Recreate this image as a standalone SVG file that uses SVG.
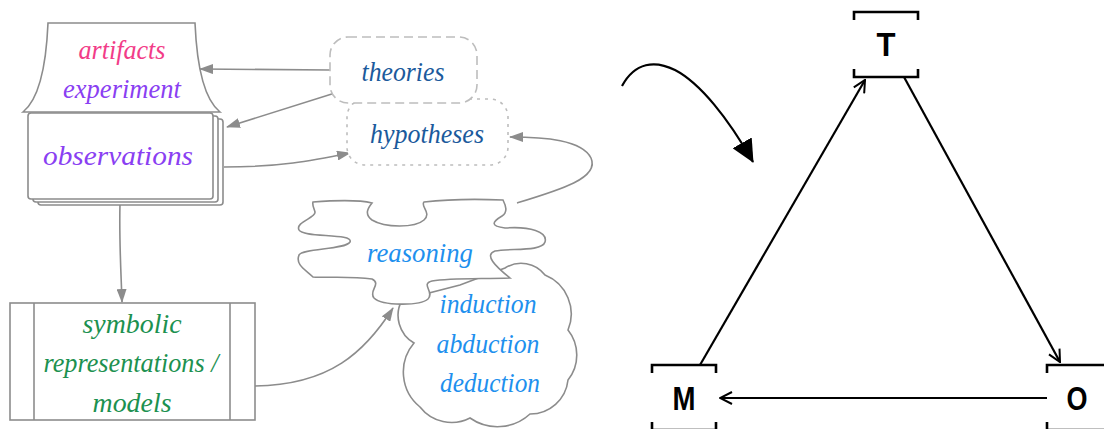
<svg xmlns="http://www.w3.org/2000/svg" width="1104" height="429" viewBox="0 0 1104 429">
<style>
.g{fill:#fff;stroke:#8c8c8c;stroke-width:1.6}
.c{fill:none;stroke:#8c8c8c;stroke-width:1.6}
.k{fill:none;stroke:#000;stroke-width:2.2}
.br{fill:none;stroke:#000;stroke-width:2.6}
.s{font-family:"Liberation Serif","DejaVu Serif",serif;font-style:italic;font-size:27px;text-anchor:middle}
.b{font-family:"Liberation Sans",Arial,sans-serif;font-weight:bold;font-size:33px;text-anchor:middle;fill:#000}
</style>
<defs>
<marker id="ga" markerWidth="14" markerHeight="10" refX="13" refY="5" orient="auto" markerUnits="userSpaceOnUse"><path d="M0,0 L14,5 L0,10 Z" fill="#8c8c8c"/></marker>
<marker id="ka" markerWidth="14" markerHeight="14" refX="13" refY="7" orient="auto" markerUnits="userSpaceOnUse"><path d="M1,1 L13,7 L1,13" fill="none" stroke="#000" stroke-width="2"/></marker>
<marker id="kf" markerWidth="24" markerHeight="22" refX="22" refY="11" orient="auto" markerUnits="userSpaceOnUse"><path d="M0,0 L23,11 L0,22 Z" fill="#000"/></marker>
</defs>

<g id="connectors">
<path class="c" d="M330,70 L200,69" marker-end="url(#ga)"/>
<path class="c" d="M335,93 L227,127" marker-end="url(#ga)"/>
<path class="c" d="M224,167 C280,167 310,161 350,153" marker-end="url(#ga)"/>
<path class="c" d="M120,204 C119,240 121,270 122,302" marker-end="url(#ga)"/>
<path class="c" d="M255,386 C330,385 365,352 393,308" marker-end="url(#ga)"/>
<path class="c" d="M517,203 C560,190 600,178 591,158 C582,140 545,137 510,137" marker-end="url(#ga)"/>
<path class="k" d="M700,365 L865,80" marker-end="url(#ka)"/>
<path class="k" d="M904,77 L1060,362" marker-end="url(#ka)"/>
<path class="k" d="M1047,398 L720,398" marker-end="url(#ka)"/>
<path class="k" d="M622,86 C635,62 655,60 675,70 C700,83 728,118 753,162" marker-end="url(#kf)"/>
</g>

<g id="artifacts">
<path class="g" d="M48,23 L195,23 C197,70 205,100 220,112 L23,112 C38,100 46,70 48,23 Z"/>
<text class="s" x="122" y="59" fill="#f23c88" font-size="24" textLength="87" lengthAdjust="spacingAndGlyphs">artifacts</text>
<text class="s" x="122" y="98" fill="#8a3ff2" font-size="24" textLength="118" lengthAdjust="spacingAndGlyphs">experiment</text>
</g>

<g id="observations">
<rect class="g" x="38" y="119" width="185" height="86" rx="3"/>
<rect class="g" x="33" y="116" width="185" height="86" rx="3"/>
<rect class="g" x="28" y="113" width="185" height="86" rx="3"/>
<text class="s" x="118" y="165" fill="#8a3ff2" font-size="29" textLength="150" lengthAdjust="spacingAndGlyphs">observations</text>
</g>

<g id="hypotheses">
<rect x="347" y="99" width="161" height="66" rx="18" fill="#fff" stroke="#bdbdbd" stroke-width="1.6" stroke-dasharray="3,5"/>
<text class="s" x="427" y="143" fill="#1b5a9c" textLength="114" lengthAdjust="spacingAndGlyphs">hypotheses</text>
</g>

<g id="theories">
<rect x="330" y="37" width="147" height="66" rx="18" fill="#fff" stroke="#bdbdbd" stroke-width="1.6" stroke-dasharray="9,5"/>
<text class="s" x="403" y="81" fill="#1b5a9c" textLength="83" lengthAdjust="spacingAndGlyphs">theories</text>
</g>

<g id="symbolic">
<rect class="g" x="10" y="303" width="245" height="117"/>
<line class="c" x1="34" y1="303" x2="34" y2="420"/>
<line class="c" x1="230" y1="303" x2="230" y2="420"/>
<text class="s" x="132" y="333" fill="#1c9150" textLength="99" lengthAdjust="spacingAndGlyphs">symbolic</text>
<text class="s" x="131" y="372" fill="#1c9150" textLength="175" lengthAdjust="spacingAndGlyphs">representations /</text>
<text class="s" x="132" y="412" fill="#1c9150" textLength="79" lengthAdjust="spacingAndGlyphs">models</text>
</g>

<g id="methods">
<path class="g" d="M402,300 A32,32 0 0 0 414,343 A45,45 0 0 0 420,407 A40,40 0 0 0 470,418 A48,48 0 0 0 530,414 A38,38 0 0 0 568,380 A40,40 0 0 0 568,330 A42,42 0 0 0 545,275 A30,30 0 0 0 505,268 L460,285 Z"/>
<text class="s" x="488" y="313" fill="#1e90ee" textLength="97" lengthAdjust="spacingAndGlyphs">induction</text>
<text class="s" x="488" y="353" fill="#1e90ee" textLength="103" lengthAdjust="spacingAndGlyphs">abduction</text>
<text class="s" x="490" y="392" fill="#1e90ee" textLength="100" lengthAdjust="spacingAndGlyphs">deduction</text>
</g>

<g id="reasoning">
<path class="g" d="M313,202 C340,200 360,200 372,203 C368,208 364,214 372,220 C385,228 415,228 424,220 C432,213 420,206 424,202 C450,199 480,199 503,200 C506,206 508,212 502,216 C492,222 490,226 505,228 C530,226 548,232 545,242 C542,252 510,248 495,251 C484,255 495,266 510,278 C480,279 450,278 432,281 C420,284 435,292 428,299 C420,306 382,306 374,298 C368,291 382,284 372,279 C350,276 330,278 313,277 C306,270 295,265 299,255 C303,248 345,250 350,242 C354,233 303,238 299,230 C295,222 316,218 315,212 C314,208 312,205 313,202 Z"/>
<text class="s" x="420" y="262" fill="#1e90ee" textLength="106" lengthAdjust="spacingAndGlyphs">reasoning</text>
</g>

<g id="T">
<path class="br" d="M854,20 L854,12 L918,12 L918,20 M854,69 L854,77 L918,77 L918,69"/>
<text class="b" x="886" y="56" textLength="19" lengthAdjust="spacingAndGlyphs">T</text>
</g>
<g id="M">
<path class="br" d="M652,373 L652,365 L716,365 L716,373 M652,422 L652,430 L716,430 L716,422"/>
<text class="b" x="684" y="410" textLength="23" lengthAdjust="spacingAndGlyphs">M</text>
</g>
<g id="O">
<path class="br" d="M1047,373 L1047,365 L1111,365 L1111,373 M1047,422 L1047,430 L1111,430 L1111,422"/>
<text class="b" x="1077" y="410" textLength="21" lengthAdjust="spacingAndGlyphs">O</text>
</g>
</svg>
